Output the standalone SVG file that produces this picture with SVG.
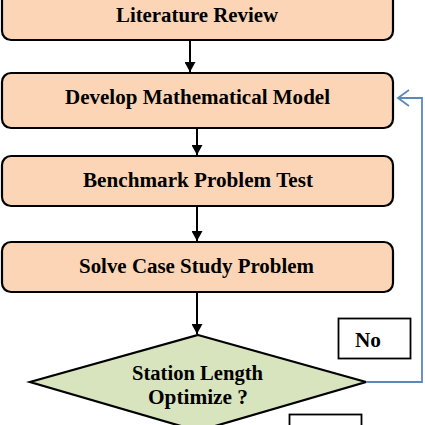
<svg xmlns="http://www.w3.org/2000/svg" width="425" height="425" viewBox="0 0 425 425">
<style>
.box{fill:#fbd5b5;stroke:#000;stroke-width:2.2}
.dia{fill:#d7e4bd;stroke:#000;stroke-width:2.2}
.lbl{fill:#fff;stroke:#000;stroke-width:1.8}
.t{font-family:"Liberation Serif","Times New Roman",serif;font-weight:bold;font-size:20px;fill:#000;text-anchor:middle}
.c{stroke:#000;stroke-width:2;fill:none}
.fb{stroke:#5b88bb;stroke-width:1.8;fill:none}
</style>
<defs>
<marker id="ah" markerWidth="10" markerHeight="11" refX="10" refY="5.5" orient="auto" markerUnits="userSpaceOnUse">
<path d="M0,0 L10,5.5 L0,11 Z" fill="#000"/>
</marker>
</defs>
<rect width="425" height="425" fill="#fff"/>
<g id="n1"><rect class="box" x="2" y="-12" width="391" height="52" rx="9"/><text class="t" x="197" y="22" textLength="162" lengthAdjust="spacingAndGlyphs">Literature Review</text></g>
<g id="n2"><rect class="box" x="2" y="73" width="391" height="55" rx="9"/><text class="t" x="197.5" y="104" textLength="265" lengthAdjust="spacingAndGlyphs">Develop Mathematical Model</text></g>
<g id="n3"><rect class="box" x="2" y="156" width="391" height="50" rx="9"/><text class="t" x="198" y="187" textLength="230" lengthAdjust="spacingAndGlyphs">Benchmark Problem Test</text></g>
<g id="n4"><rect class="box" x="2" y="242" width="391" height="50" rx="9"/><text class="t" x="196.5" y="273" textLength="235" lengthAdjust="spacingAndGlyphs">Solve Case Study Problem</text></g>
<g id="n5"><polygon class="dia" points="198,335 366,382 198,431 30,382"/><text class="t" x="197.5" y="380" textLength="131" lengthAdjust="spacingAndGlyphs">Station Length</text><text class="t" x="198" y="404" textLength="100" lengthAdjust="spacingAndGlyphs">Optimize ?</text></g>
<g id="n6"><rect class="lbl" x="338.5" y="318.5" width="72" height="40"/><text class="t" x="368" y="347" textLength="26" lengthAdjust="spacingAndGlyphs">No</text></g>
<g id="n7"><rect class="lbl" x="289.5" y="414.5" width="72" height="30"/></g>
<g id="connectors">
<line class="c" x1="190" y1="41" x2="190" y2="72" marker-end="url(#ah)"/>
<line class="c" x1="197" y1="129" x2="197" y2="155" marker-end="url(#ah)"/>
<line class="c" x1="197" y1="207" x2="197" y2="241" marker-end="url(#ah)"/>
<line class="c" x1="197" y1="293" x2="197" y2="334" marker-end="url(#ah)"/>
<polyline class="fb" points="366,382 422,382 422,98 398,98"/>
<polyline class="fb" points="409,90 398,98 409,106"/>
</g>
</svg>
